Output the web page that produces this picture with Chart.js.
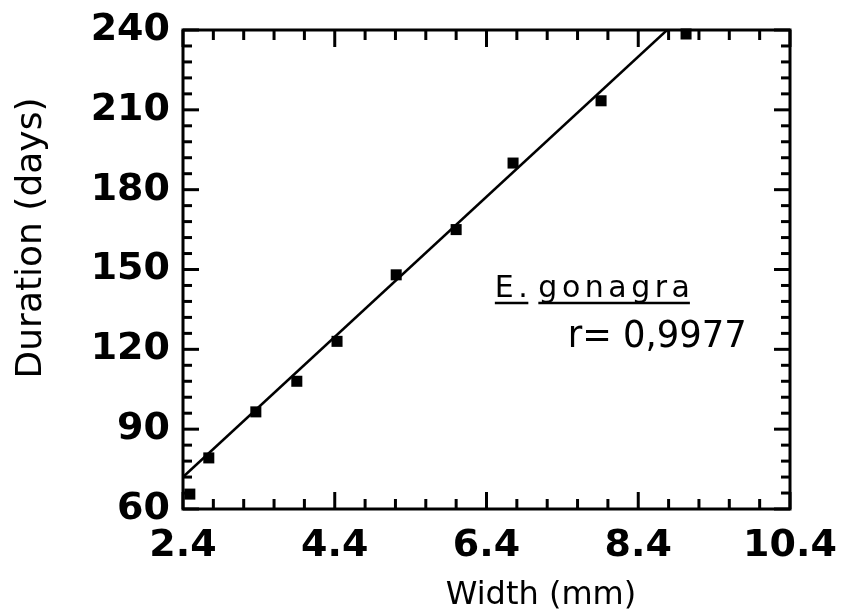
<!DOCTYPE html>
<html>
<head>
<meta charset="utf-8">
<script src="https://cdn.jsdelivr.net/npm/chart.js@4/dist/chart.umd.min.js"></script>
<style>
  html, body { margin: 0; padding: 0; background: #fff; }
  #wrap { width: 843px; height: 615px; }
</style>
</head>
<body>
<div id="wrap"><canvas id="chart" width="843" height="615"></canvas></div>
<script>
// values
const widthMm      = [2.49, 2.74, 3.36, 3.90, 4.43, 5.21, 6.00, 6.75, 7.91, 9.03];
const durationDays = [65.6, 79.2, 96.5, 108, 123, 148, 165, 190, 213.4, 238.5];

// regression line end points
const fitX = [2.4, 8.78];
const fitY = [72, 240];

const xTicks = [2.4, 4.4, 6.4, 8.4, 10.4];
const yTicks = [60, 90, 120, 150, 180, 210, 240];

const tickFont = { family: 'DejaVu Sans', size: 38, weight: 'bold' };

// frame + inward ticks + titles + the species label
const framePlugin = {
    id: 'frame',
    afterDraw(chart) {
        const { ctx, chartArea: a, scales: { x, y } } = chart;
        ctx.save();
        ctx.strokeStyle = '#000';
        ctx.lineWidth = 3;

        const line = (x1, y1, x2, y2) => {
            ctx.beginPath();
            ctx.moveTo(x1, y1);
            ctx.lineTo(x2, y2);
            ctx.stroke();
        };

        ctx.strokeRect(a.left, a.top, a.right - a.left, a.bottom - a.top);

        // x: minor every 0.4, major every 2
        for (let i = 0; i <= 20; i++) {
            const px = x.getPixelForValue(2.4 + i * 0.4);
            const len = i % 5 === 0 ? 17 : 10;
            line(px, a.bottom, px, a.bottom - len);
            line(px, a.top, px, a.top + len);
        }
        // y: minor every 6, major every 30
        for (let i = 0; i <= 30; i++) {
            const py = y.getPixelForValue(60 + i * 6);
            const len = i % 5 === 0 ? 16 : 9;
            line(a.left, py, a.left + len, py);
            line(a.right, py, a.right - len, py);
        }

        ctx.fillStyle = '#000';

        // axis titles (sit off-centre in the original)
        ctx.textAlign = 'center';
        ctx.textBaseline = 'middle';
        ctx.font = '32px "DejaVu Sans"';
        ctx.fillText('Width (mm)', 541, 596);
        ctx.save();
        ctx.translate(32, 238);
        ctx.rotate(-Math.PI / 2);
        ctx.font = '36px "DejaVu Sans"';
        ctx.fillText('Duration (days)', 0, 0);
        ctx.restore();

        // label
        ctx.textBaseline = 'alphabetic';
        ctx.textAlign = 'left';
        ctx.font = '30px "DejaVu Sans"';
        ctx.letterSpacing = '4.5px';
        const lx = x.getPixelForValue(6.51);
        const ly = y.getPixelForValue(139.7);
        ctx.fillText('E.', lx, ly);
        const eW = ctx.measureText('E.').width;
        const gX = lx + eW + 6;
        ctx.fillText('gonagra', gX, ly);
        const gW = ctx.measureText('gonagra').width - 4.5;
        ctx.lineWidth = 2.5;
        line(lx, ly + 6, lx + eW - 4, ly + 6);
        line(gX, ly + 6, gX + gW, ly + 6);

        ctx.letterSpacing = '0px';
        ctx.font = '38px "DejaVu Sans"';
        ctx.fillText('r= 0,9977', x.getPixelForValue(7.47), y.getPixelForValue(120.9), 179);
        ctx.restore();
    }
};

new Chart(document.getElementById('chart'), {
    data: {
        datasets: [
            {
                type: 'line',
                data: fitX.map((v, i) => ({ x: v, y: fitY[i] })),
                borderColor: '#000',
                borderWidth: 2.5,
                pointRadius: 0,
                fill: false,
            },
            {
                type: 'scatter',
                data: widthMm.map((v, i) => ({ x: v, y: durationDays[i] })),
                pointStyle: 'rect',
                pointRadius: 7.8,
                backgroundColor: '#000',
                borderColor: '#000',
                borderWidth: 0,
                clip: false,
            },
        ],
    },
    options: {
        responsive: false,
        animation: false,
        layout: { padding: { left: 0, right: 53, top: 30, bottom: 0 } },
        plugins: { legend: { display: false }, tooltip: { enabled: false } },
        scales: {
            x: {
                type: 'linear',
                min: 2.4,
                max: 10.4,
                afterBuildTicks: s => { s.ticks = xTicks.map(v => ({ value: v })); },
                afterFit: s => { s.height = 106; s.paddingLeft = 0; s.paddingRight = 0; },
                grid: { display: false, drawTicks: false },
                border: { display: false },
                ticks: {
                    color: '#000',
                    font: tickFont,
                    padding: 14,
                    maxRotation: 0,
                    callback: v => v.toFixed(1),
                },
            },
            y: {
                type: 'linear',
                min: 60,
                max: 240,
                afterBuildTicks: s => { s.ticks = yTicks.map(v => ({ value: v })); },
                afterFit: s => { s.width = 183; s.paddingTop = 0; s.paddingBottom = 0; },
                grid: { display: false, drawTicks: false },
                border: { display: false },
                ticks: {
                    color: '#000',
                    font: tickFont,
                    padding: 13,
                },
            },
        },
    },
    plugins: [framePlugin],
});
</script>
</body>
</html>
